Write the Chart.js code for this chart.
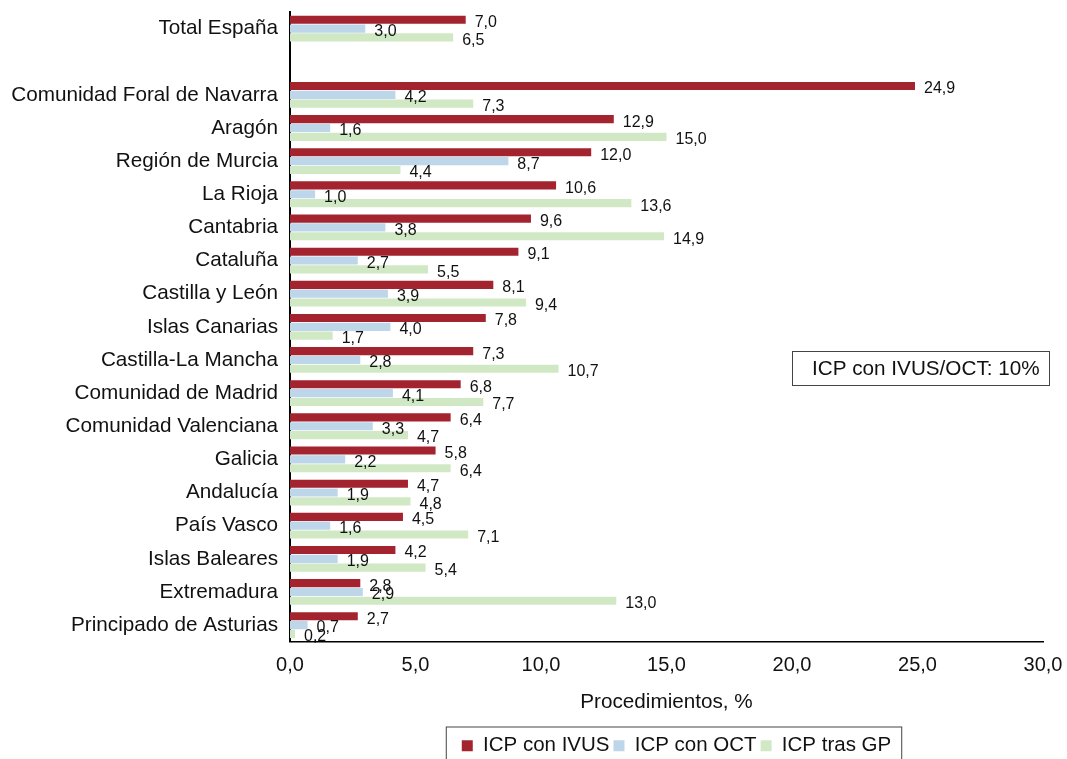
<!DOCTYPE html>
<html lang="es">
<head>
<meta charset="utf-8">
<title>ICP con IVUS / OCT por comunidad</title>
<script src="https://cdn.jsdelivr.net/npm/chart.js@4.4.1/dist/chart.umd.min.js"></script>
<style>
    html, body { margin: 0; padding: 0; background: #fff; }
    #wrap { width: 1067px; height: 759px; position: relative; }
</style>
</head>
<body>
<div id="wrap"><canvas id="icpChart"></canvas></div>
<script>
// categories (empty one keeps the gap under Total España)
const regions = [
    'Total España', '',
    'Comunidad Foral de Navarra', 'Aragón', 'Región de Murcia', 'La Rioja',
    'Cantabria', 'Cataluña', 'Castilla y León', 'Islas Canarias',
    'Castilla-La Mancha', 'Comunidad de Madrid', 'Comunidad Valenciana',
    'Galicia', 'Andalucía', 'País Vasco', 'Islas Baleares', 'Extremadura',
    'Principado de Asturias'
];
const icpIvus = [7.0, null, 24.9, 12.9, 12.0, 10.6, 9.6, 9.1, 8.1, 7.8, 7.3, 6.8, 6.4, 5.8, 4.7, 4.5, 4.2, 2.8, 2.7];
const icpOct = [3.0, null, 4.2, 1.6, 8.7, 1.0, 3.8, 2.7, 3.9, 4.0, 2.8, 4.1, 3.3, 2.2, 1.9, 1.6, 1.9, 2.9, 0.7];
const icpGp = [6.5, null, 7.3, 15.0, 4.4, 13.6, 14.9, 5.5, 9.4, 1.7, 10.7, 7.7, 4.7, 6.4, 4.8, 7.1, 5.4, 13.0, 0.2];
const seriesNames = ['ICP con IVUS', 'ICP con OCT', 'ICP tras GP'];
const xTicks = [0, 5, 10, 15, 20, 25, 30];
const noteText = 'ICP con IVUS/OCT: 10%';

const FONT = '"Liberation Sans", Arial, Helvetica, sans-serif';
const fmt = v => v.toFixed(1).replace('.', ',');

// value labels to the right of each bar
const barLabels = {
    id: 'barLabels',
    afterDatasetsDraw(chart) {
        const ctx = chart.ctx;
        ctx.save();
        ctx.font = '16px ' + FONT;
        ctx.fillStyle = '#111';
        ctx.textAlign = 'left';
        ctx.textBaseline = 'middle';
        chart.data.datasets.forEach((ds, i) => {
            chart.getDatasetMeta(i).data.forEach((bar, j) => {
                const v = ds.data[j];
                if (v === null) return;
                ctx.fillText(fmt(v), bar.x + 9, bar.y + 3);
            });
        });
        ctx.restore();
    }
};

// nudge legend a bit right/down, then box it; also the boxed note
const extras = {
    id: 'extras',
    afterLayout(chart) {
        const lg = chart.legend;
        lg.left += 10; lg.right += 10;
        lg.top += 7; lg.bottom += 7;
    },
    afterDraw(chart) {
        const ctx = chart.ctx;
        const area = chart.chartArea;
        ctx.save();
        ctx.strokeStyle = '#444';
        ctx.lineWidth = 1;
        const bx = area.right - 251, by = area.top + 339;
        ctx.strokeRect(bx + 0.5, by + 0.5, 257, 34);
        ctx.font = '20.7px ' + FONT;
        ctx.fillStyle = '#111';
        ctx.textBaseline = 'middle';
        ctx.fillText(noteText, bx + 20, by + 18);

        const hb = chart.legend.legendHitBoxes;
        if (hb && hb.length) {
            const left = hb[0].left - 16;
            const right = hb[hb.length - 1].left + hb[hb.length - 1].width + 10;
            const top = hb[0].top - 9;
            ctx.strokeRect(left + 0.5, top + 0.5, right - left, 60);
        }
        ctx.restore();
    }
};

new Chart(document.getElementById('icpChart').getContext('2d'), {
    type: 'bar',
    data: {
        labels: regions,
        datasets: [
            { label: seriesNames[0], data: icpIvus, backgroundColor: '#A3232F' },
            { label: seriesNames[1], data: icpOct, backgroundColor: '#BDD6EA' },
            { label: seriesNames[2], data: icpGp, backgroundColor: '#D1E8C5' }
        ]
    },
    options: {
        indexAxis: 'y',
        responsive: true,
        maintainAspectRatio: false,
        animation: false,
        categoryPercentage: 0.8,
        barPercentage: 0.92,
        layout: { padding: { top: 12, right: 24, left: 0, bottom: 0 } },
        scales: {
            x: {
                min: 0,
                max: 30,
                afterBuildTicks: scale => { scale.ticks = xTicks.map(v => ({ value: v })); },
                afterFit: scale => {
                    scale.paddingLeft = 0;
                    scale.paddingRight = 0;
                },
                grid: { display: false, drawTicks: false },
                border: { display: true, color: '#000', width: 1.5 },
                ticks: {
                    padding: 12,
                    color: '#111',
                    font: { family: FONT, size: 20 },
                    callback: v => fmt(v)
                },
                title: {
                    display: true,
                    text: 'Procedimientos, %',
                    color: '#111',
                    font: { family: FONT, size: 20.7 },
                    padding: { top: 0, bottom: 10 }
                }
            },
            y: {
                grid: { display: false, drawTicks: false },
                border: { display: true, color: '#000', width: 2 },
                afterFit: scale => {
                    scale.width = 290;
                    // bands already leave room for the first/last label
                    scale.paddingTop = 0;
                    scale.paddingBottom = 0;
                },
                ticks: {
                    padding: 12,
                    color: '#111',
                    autoSkip: false,
                    font: { family: FONT, size: 20.7 }
                }
            }
        },
        plugins: {
            legend: {
                position: 'bottom',
                fullSize: false,
                labels: {
                    boxWidth: 11,
                    boxHeight: 11,
                    padding: 4,
                    color: '#111',
                    font: { family: FONT, size: 20.5 }
                }
            },
            tooltip: { enabled: false }
        }
    },
    plugins: [barLabels, extras]
});
</script>
</body>
</html>
